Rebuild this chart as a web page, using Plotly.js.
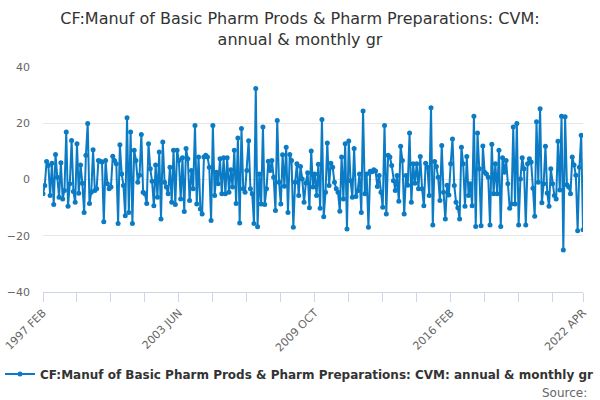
<!DOCTYPE html>
<html>
<head>
<meta charset="utf-8">
<script src="https://cdn.plot.ly/plotly-3.0.1.min.js"></script>
<style>
  html, body { margin: 0; padding: 0; background: #fff; }
  #chart { width: 600px; height: 400px; }
</style>
</head>
<body>
<div id="chart"></div>
<script>
// series runs monthly from 1997 FEB to 2022 APR
const startYear = 1997;
const startMonth = 2;
const monthNames = ['JAN','FEB','MAR','APR','MAY','JUN','JUL','AUG','SEP','OCT','NOV','DEC'];

// annual & monthly growth, %
const growth1997to2000 = [
  -5.1, -2.1, 6.4, 5, -5.7, 5.8, -8.9, 8.9, 0.8, -6.3,
  6, -6.9, -3.9, 16.9, -9.5, -1.5, 13.9, -4.3, -8.1, 12.7,
  -4.9, 5.2, -1.3, -11.7, 8.6, 19.9, -8.5, -4.5, 10.6, -3.9,
  -3.3, 6.8, 6.5, 6.2, -15, 6.8, -1.5, -3.3, -2.7, 8.3,
  6.8, 5.6, -15.6, 12.4, 2
];
const growth2000to2005 = [
  -2.1, -12.9, 22, -11.7, 16.9, -15.6, 10.4, 6.8, -1, 1.5,
  16, -4.5, -5.1, -8.5, 12.7, 3.8, -0.6, -9.3, 5.2, -6.3,
  9.8, -14, 13.3, -1, -2.7, -5.1, 4.4, -8.1, 10.4, -8.9,
  10.4, 6.8, -6.9, 7.7, -11.4, 11, 7.4, -7.5, 3.2, -3.3,
  19.2, -8.7, 8, -10.5, -12.3, 8, 8.6, 8, 4.4, -14.6,
  19.2, -5.7, 2.6, -1.5, 7.4, -5.1
];
const growth2005to2009 = [
  7.7, -5.1, 7.7, -4.5, 3.5, -2.7, 10.4, -8.5, 14.8, -15.5,
  18.1, -3.3, -4.5, 3.2, 13.8, -3.3, -5.1, -15.6, 32.4,
  -16.8, 2, -8.7, 18.7, -8.9, -3.3, 6.5, 3.2, 6.8, 0.8,
  -11, 21, -1, -8.7, 8.8, -2.4, 11.5, -11.7, 8.9, 6.8,
  -17, -1, 5.6, -5.7, 4.6, 0.2, -8.1, -1.2, 2.4, -10,
  10.1, -2.7, 2, -5.7, 5.4
];
const growth2010to2014 = [
  -10.2, 21.3, -13.2, -4.5, 13, -2.1, 5.8, 4.4, -1, -3.3,
  -4.5, -11.3, 8, -6.9, 12.7, -17.6, 13.7, -0.4, -6.3, 11,
  -6, -4, 2, -11.7, 24.4,
  -5.1, 2, -17, 2.9, 2.8, 3.5, 3.0, -2.5, 1.4, -4.5,
  -9.9, 19.2, -12.3, 8.6, 8, 5, -0.4, -3.9, 1.4, -7.7,
  11.8, 6.8, -12.3, 1.4, -2, 16.5, -8.1, 5.6, -1.3
];
const growth2014to2018 = [
  5.6, -3.3, 8.2, -3.3, -9.3, 5.8, 4.4, -5.7, 25.5,
  -16.2, 6.4, 4.6, 0.8, -7.5, 12.1, -4.5, -14, -2, -5.5,
  5.6, 14.4,
  -2.1, -8.1, -10, -14, 11.5, 5.6, -9.5, 8.2, -5.7, -1.5,
  -9.3, 22.5, -16.7, 16.5, 3.8, -16.4, 11.9, 2.6, 2, 0.8,
  -16.2, 12.5, -5.1, 5.6, -5.1, 10.4, -16.7
];
const growth2018to2022 = [
  7.7, 2.6, 6.8, -1.5, -10.2, -8.7, 18.7, -8.7, 19.9, -16.2,
  0.2, 7.7, 3.8, -16.2, 5.6, 7.4, 6.2, -3.1, -13.1, 20.5,
  -1, 25.2, -8.3, -1.5, 11.8, -4.8, -9.5, 3.8, -1.5, -5.7,
  -6.9, 13.6, -3.7, 22.5, -25.1, 22.3, -1.9, -2.7, -5.1, 8,
  5.2, 1.5, -18.2, 4.4, 15.7, -17.9
];

const growth = [].concat(growth1997to2000, growth2000to2005, growth2005to2009,
  growth2010to2014, growth2014to2018, growth2018to2022);

// month labels for each point
let months = [];
let idx = [];
for (let i = 0; i < growth.length; i++) {
  let m = startMonth - 1 + i;
  months.push((startYear + Math.floor(m / 12)) + ' ' + monthNames[m % 12]);
  idx.push(i);
}

// ticks every 19 months, labelled every 4th, plus the last month
const tickStep = 19;
let tickVals = [];
let tickText = [];
for (let i = 0, n = 0; i < growth.length - tickStep / 2; i += tickStep, n++) {
  tickVals.push(i);
  tickText.push(n % 4 === 0 ? months[i] : '');
}
tickVals.push(growth.length - 1);
tickText.push(months[growth.length - 1]);

const lineColor = '#0a7bc4';
const seriesName = 'CF:Manuf of Basic Pharm Prods & Pharm Preparations: CVM: annual & monthly gr';

let trace = {
  x: idx,
  y: growth,
  text: months,
  name: seriesName,
  type: 'scatter',
  mode: 'lines+markers',
  line: { color: lineColor, width: 2 },
  marker: { color: lineColor, size: 5 },
  showlegend: true
};

let layout = {
  width: 600,
  height: 400,
  margin: { l: 43, r: 17, t: 67, b: 108 },
  paper_bgcolor: '#fff',
  plot_bgcolor: '#fff',
  font: { family: 'DejaVu Sans, sans-serif', color: '#666', size: 11 },
  title: {
    text: 'CF:Manuf of Basic Pharm Prods & Pharm Preparations: CVM:<br>annual & monthly gr',
    font: { family: 'DejaVu Sans, sans-serif', size: 16, color: '#333' },
    x: 0.5,
    xanchor: 'center',
    y: 0.94,
    yanchor: 'middle',
    yref: 'container'
  },
  xaxis: {
    range: [0, growth.length - 1],
    tickmode: 'array',
    tickvals: tickVals,
    ticktext: tickText,
    tickangle: -45,
    ticks: 'outside',
    ticklen: 9,
    tickcolor: '#ccd6eb',
    tickfont: { size: 11, color: '#666' },
    showline: true,
    linecolor: '#ccd6eb',
    linewidth: 1,
    showgrid: false,
    zeroline: false,
    fixedrange: true
  },
  yaxis: {
    range: [-40, 40],
    tickvals: [-40, -20, 0, 20, 40],
    tickfont: { size: 11, color: '#666' },
    showgrid: true,
    gridcolor: '#e6e6e6',
    gridwidth: 1,
    zeroline: false,
    showline: false,
    ticks: '',
    ticklabelstandoff: 12,
    fixedrange: true
  },
  legend: {
    orientation: 'h',
    xref: 'container',
    yref: 'container',
    x: -0.02,
    xanchor: 'left',
    y: 0.065,
    yanchor: 'middle',
    font: { family: 'DejaVu Sans, sans-serif', size: 12, color: '#333', weight: 'bold' },
    bgcolor: 'rgba(0,0,0,0)'
  },
  annotations: [{
    text: 'Source:',
    xref: 'paper',
    yref: 'paper',
    x: 1.012,
    y: -0.45,
    xanchor: 'right',
    yanchor: 'middle',
    showarrow: false,
    font: { family: 'DejaVu Sans, sans-serif', size: 12, color: '#666' }
  }]
};

let config = { staticPlot: true, displayModeBar: false };

Plotly.newPlot('chart', [trace], layout, config);
</script>
</body>
</html>
